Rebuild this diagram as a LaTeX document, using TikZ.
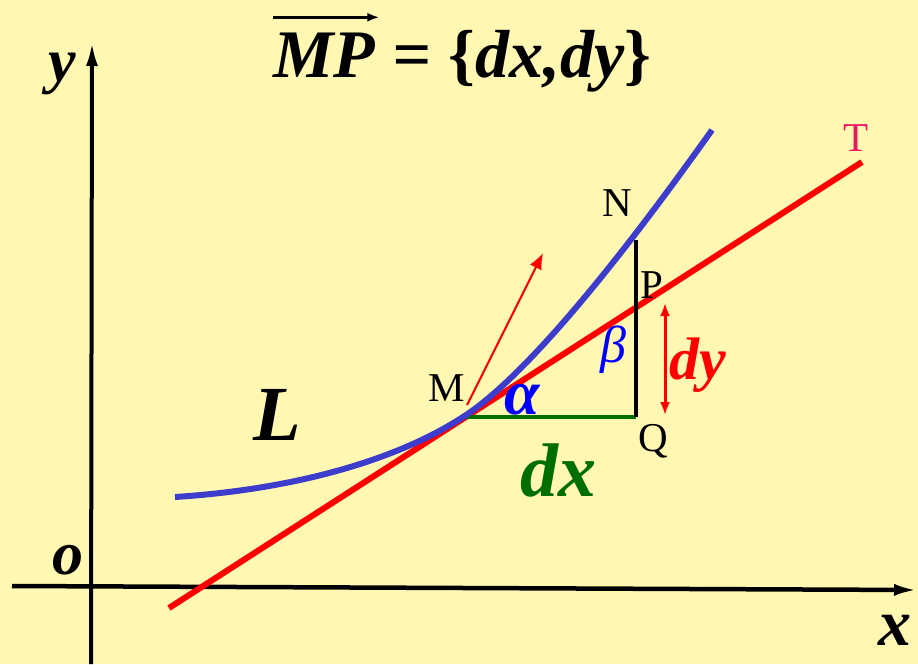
\documentclass[tikz,border=0pt]{standalone}
\usepackage{fontspec}
\setmainfont{Liberation Serif}
\usetikzlibrary{arrows.meta}
\definecolor{bg}{RGB}{255,247,178}
\definecolor{curveblue}{RGB}{60,60,205}
\definecolor{dgreen}{RGB}{0,110,0}
\definecolor{tpink}{RGB}{235,20,100}
\newcommand\fs[1]{\fontsize{#1}{#1}\selectfont}
\begin{document}
\begin{tikzpicture}[x=1pt,y=-1pt,
  lbl/.style={inner sep=0pt, font=\fs{41}},
  bilbl/.style={inner sep=0pt, font=\fs{#1}\bfseries\itshape},
  axisline/.style={line width=4.5pt, -{Latex[length=24pt,width=12pt]}}]
\fill[bg] (0,0) rectangle (918,664);
\useasboundingbox (0,0) rectangle (918,664);
% axes
\coordinate (xs) at (12,586);
\coordinate (xe) at (918,590);
\coordinate (ys) at (91,664);
\coordinate (ye) at (92,42);
\draw[axisline] (xs) -- (xe);
\draw[axisline,line width=4pt] (ys) -- (ye);
% key points
\coordinate (M) at (463,417);
\coordinate (Q) at (636,417);
\coordinate (Ntop) at (636,240);
\coordinate (c0) at (175,497);
\coordinate (c1) at (712,130);
\coordinate (t0) at (169,608);
\coordinate (t1) at (862,162);
% tangent line
\draw[red, line width=6pt] (t0) -- (t1);
% dx and dy legs
\draw[dgreen, line width=4pt] (M) -- (Q);
\draw[black, line width=4pt] (Ntop) -- (Q);
% curve L
\draw[curveblue, line width=6pt] (c0) .. controls (300,489) and (400,458) .. (M)
   .. controls (540,368) and (660,203) .. (c1);
% direction vector
\coordinate (ms) at (467,405);
\coordinate (mt) at (543,253);
\draw[red, line width=2pt, -{Latex[length=16pt,width=13pt]}] (ms) -- (mt);
% dy arrow
\coordinate (dyt) at (665,303);
\coordinate (dyb) at (665,415);
\draw[red, line width=3pt, {Latex[length=13pt,width=10pt]}-{Latex[length=13pt,width=10pt]}] (dyt) -- (dyb);
% labels
\node[bilbl=68, anchor=base west] (mp) at (273,77) {MP};
\node[bilbl=68, anchor=base west] (rest) at (mp.base east) {\hspace{0.25em}=\hspace{0.25em}{\upshape\{}dx,dy{\upshape\}}};
\draw[line width=2.5pt, -{Latex[length=12pt,width=9pt]}] ([yshift=15pt]mp.north west) -- ([yshift=15pt,xshift=4pt]mp.north east);
\node[bilbl=62] (ylab) at (62,74) {y};
\node[bilbl=66] (xlab) at (895,630) {x};
\node[bilbl=62] (olab) at (68,560) {o};
\node[bilbl=78] (Llab) at (277,415) {L};
\node[lbl] (Mlab) at (447,388) {M};
\node[lbl] (Nlab) at (617,203) {N};
\node[lbl] (Plab) at (652,285) {P};
\node[lbl] (Qlab) at (653,441) {Q};
\node[lbl, text=tpink] (Tlab) at (856,138) {T};
\node[bilbl=64, text=blue] (alab) at (522,400) {α};
\node[inner sep=0pt, font=\fs{52}\itshape, text=blue] (blab) at (613,350) {β};
\node[bilbl=60, text=red] (dylab) at (698,365) {dy};
\node[bilbl=76, text=dgreen] (dxlab) at (558,470) {dx};
\end{tikzpicture}
\end{document}
